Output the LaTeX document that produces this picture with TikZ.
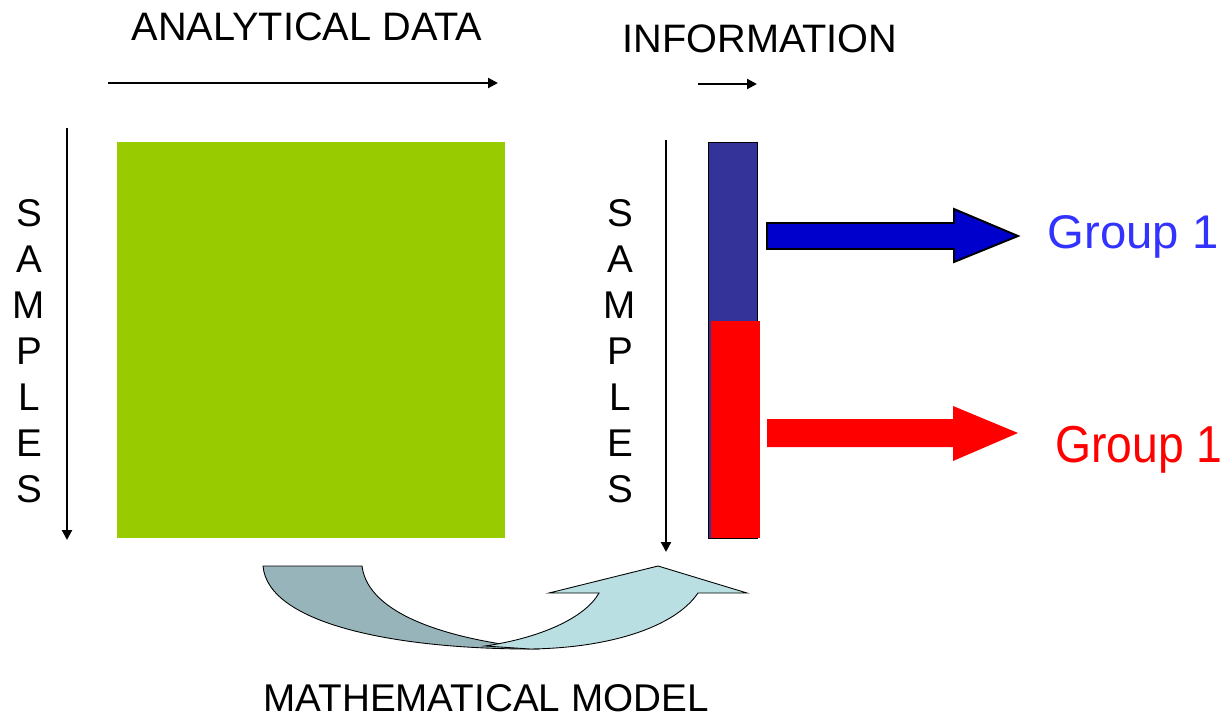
\documentclass[tikz,border=0pt]{standalone}
\usepackage{fontspec}
\setmainfont{Liberation Sans}
\usetikzlibrary{arrows.meta}
\definecolor{datagreen}{HTML}{99CC00}
\definecolor{barblue}{HTML}{333399}
\definecolor{arrowblue}{HTML}{0000CC}
\definecolor{grouptext}{HTML}{3333FF}
\definecolor{ribbondark}{HTML}{96B4B9}
\definecolor{ribbonlight}{HTML}{B9DFE3}
\tikzset{
  lbl/.style={font=\fontsize{22}{26}\selectfont, inner sep=0pt, anchor=base},
  head/.style={font=\fontsize{22.6}{26}\selectfont, inner sep=0pt, anchor=base},
  grp/.style={font=\fontsize{26.9}{30}\selectfont, inner sep=0pt, anchor=base},
  axis/.style={line width=1.2pt, -{Triangle[length=0.2cm,width=0.2cm]}},
}
\begin{document}
\begin{tikzpicture}[x=0.02cm, y=-0.02cm]
\useasboundingbox (0,0) rectangle (1226,719);

% headings
\node[head] (adata) at (307,41) {ANALYTICAL DATA};
\node[head] (info) at (760,52.7) {INFORMATION};
\node[lbl] (model) at (486,711) {MATHEMATICAL MODEL};

% horizontal axis arrows
\coordinate (ha0) at (108,83);
\coordinate (ha1) at (498,83);
\draw[axis] (ha0) -- (ha1);
\coordinate (hb0) at (698,84);
\coordinate (hb1) at (757,84);
\draw[axis] (hb0) -- (hb1);

% vertical SAMPLES labels
\foreach \ch [count=\i] in {S,A,M,P,L,E,S} {
  \node[lbl] (ls\i) at (29,{226.5+46*(\i-1)}) {\ch};
  \node[lbl] (rs\i) at (620,{226.5+46*(\i-1)}) {\ch};
}

% vertical axis arrows
\coordinate (va0) at (67,128);
\coordinate (va1) at (67,540);
\draw[axis] (va0) -- (va1);
\coordinate (vb0) at (666,140);
\coordinate (vb1) at (666,552);
\draw[axis] (vb0) -- (vb1);

% data matrix
\fill[datagreen] (117,142) rectangle (505,538);

% information bar
\draw[fill=barblue, line width=0.5pt] (708,142) rectangle (757,538);
\fill[red] (711,321) rectangle (760,538);

% block arrows to the groups
\draw[fill=arrowblue, line width=1.1pt, line join=miter]
  (767,223) -- (954,223) -- (954,209) -- (1018,236) -- (954,262) -- (954,249) -- (767,249) -- cycle;
\fill[red]
  (767,419) -- (953,419) -- (953,406) -- (1018,433) -- (953,461) -- (953,447) -- (767,447) -- cycle;

% group labels
\node[grp, text=grouptext] (g1) at (1133,249) {Group 1};
\node[grp, text=red] (g2) at (1139,462) {\scalebox{0.98}[1.1]{Group 1}};

% curved ribbon arrow
\draw[fill=ribbondark, line width=0.5pt]
  (263,566) -- (362,566) .. controls (368,615) and (450,640) .. (540,649)
  .. controls (400,650) and (268,625) .. (263,566) -- cycle;
\draw[fill=ribbonlight, line width=0.5pt]
  (485,646) .. controls (540,638) and (585,618) .. (599,593)
  -- (549,593) -- (658,566) -- (747,593) -- (698,593)
  .. controls (675,627) and (610,648) .. (530,649) -- cycle;
\end{tikzpicture}
\end{document}
